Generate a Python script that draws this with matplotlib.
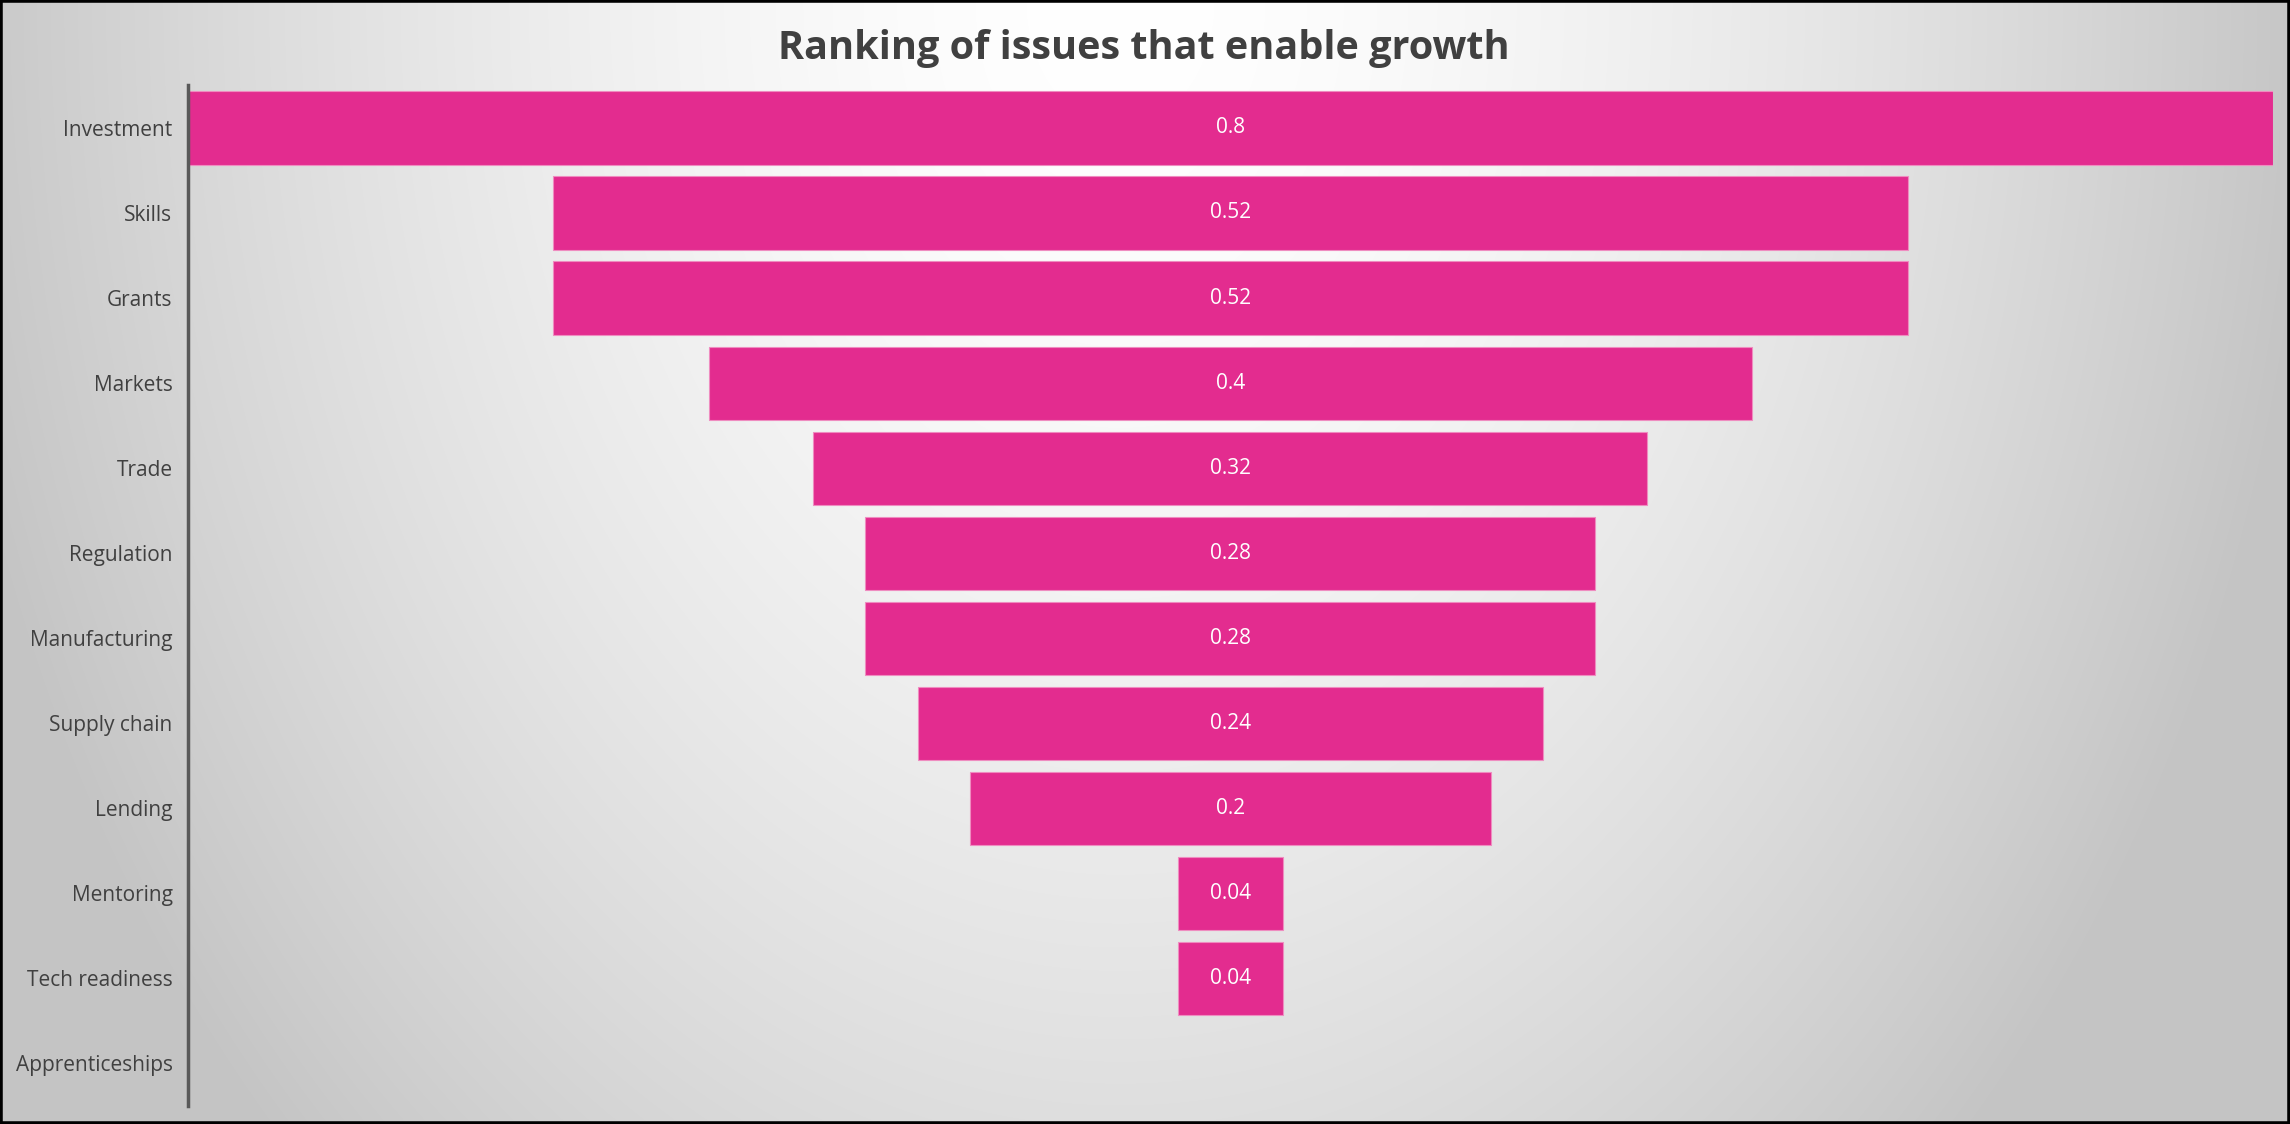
import numpy as np
import matplotlib
matplotlib.use('Agg')
import matplotlib.pyplot as plt

categories = ['Investment', 'Skills', 'Grants', 'Markets', 'Trade', 'Regulation',
              'Manufacturing', 'Supply chain', 'Lending', 'Mentoring',
              'Tech readiness', 'Apprenticeships']
values = [0.8, 0.52, 0.52, 0.4, 0.32, 0.28, 0.28, 0.24, 0.2, 0.04, 0.04, 0.0]
title = 'Ranking of issues that enable growth'

plt.rcParams['font.family'] = ['Open Sans', 'DejaVu Sans']

W, H = 2290, 1124
fig = plt.figure(figsize=(W / 100, H / 100), dpi=100)

# radial grey background, lightest near the top centre
bg = fig.add_axes([0, 0, 1, 1], zorder=-10)
yy, xx = np.mgrid[0:H, 0:W]
d2 = ((xx - 1120) / 1150.0) ** 2 + ((yy - 0) / 1550.0) ** 2
v = np.clip(255 - 55 * d2 ** 0.8, 196, 255) / 255.0
bg.imshow(np.dstack([v, v, v]), extent=[0, 1, 0, 1], aspect='auto')
bg.set_xlim(0, 1)
bg.set_ylim(0, 1)
bg.axis('off')
# black frame
bg.add_patch(plt.Rectangle((0, 0), 1, 1, transform=bg.transAxes, fill=False,
                           edgecolor='black', linewidth=4, clip_on=False))

ax = fig.add_axes([0.082, 0.016, 0.9106, 0.908])
ax.set_facecolor('none')

vmax = max(values)
y = np.arange(len(categories))
lefts = [(vmax - val) / 2 for val in values]
edges = ['#ef8cc0' if val > 0 else 'none' for val in values]
ax.barh(y, values, left=lefts, height=0.86, color='#e32c8f',
        edgecolor=edges, linewidth=0.8)
for yi, val, lf in zip(y, values, lefts):
    if val > 0:
        ax.text(lf + val / 2, yi, f'{val:g}', ha='center', va='center',
                color='white', fontsize=15)

ax.set_xlim(0, vmax)
ax.set_ylim(len(categories) - 0.5, -0.5)
ax.set_yticks(y)
ax.set_yticklabels(categories, fontsize=15, color='#404040')
ax.tick_params(axis='y', length=0, pad=11)
ax.set_xticks([])
for s in ['top', 'right', 'bottom']:
    ax.spines[s].set_visible(False)
ax.spines['left'].set_color('#595959')
ax.spines['left'].set_linewidth(2.5)

fig.text(0.4996, 0.957, title, ha='center', va='center', fontsize=28.5,
         fontweight='bold', color='#404040')

fig.savefig('out.png', dpi=100)
